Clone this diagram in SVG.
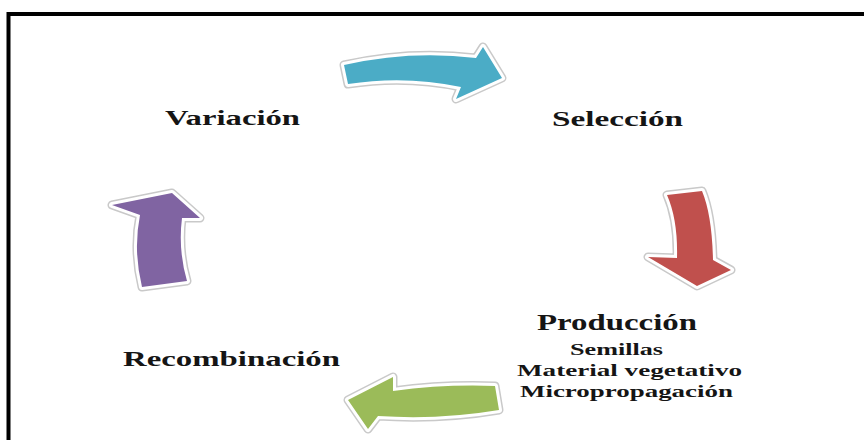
<svg xmlns="http://www.w3.org/2000/svg" width="864" height="440" viewBox="0 0 864 440">
<style>
.lbl{font-family:"Liberation Serif","DejaVu Serif",serif;font-weight:bold;fill:#151515;}
.main{font-size:22px;}
.big{font-size:24px;}
.sub{font-size:17px;}
.halo{fill:none;stroke:#c9c9c9;stroke-width:9;stroke-linejoin:round;}
.rim{fill:none;stroke:#ffffff;stroke-width:6;stroke-linejoin:round;}
</style>
<rect x="0" y="0" width="864" height="440" fill="#ffffff"/>
<path d="M8.5,440 V14 H864" fill="none" stroke="#000" stroke-width="4"/>
<defs>
<path id="pBlue" d="M344,65 Q410,50 476,58 L483,47 L502,78 L456,99 L461,87 Q405,75 348,84 Z"/>
<path id="pRed" d="M667,195 L702,191 Q712,215 713,260 L731,270 L697,286 L648,257 L677,258 Q678,220 667,195 Z"/>
<path id="pGreen" d="M495,386 L499,410 Q440,420 378,416 L368,429 L348,400 L393,377 L393,391 Q445,384 495,386 Z"/>
<path id="pPurple" d="M112,205 L172,193 L200,218 L182,218 Q178,250 187,281 L142,287 Q133,250 140,215 Z"/>
</defs>
<g id="connectors">
<use href="#pBlue" class="halo"/><use href="#pBlue" class="rim"/><use href="#pBlue" fill="#4BACC6"/>
<use href="#pRed" class="halo"/><use href="#pRed" class="rim"/><use href="#pRed" fill="#C0504D"/>
<use href="#pGreen" class="halo"/><use href="#pGreen" class="rim"/><use href="#pGreen" fill="#9BBB59"/>
<use href="#pPurple" class="halo"/><use href="#pPurple" class="rim"/><use href="#pPurple" fill="#8064A2"/>
</g>
<g id="variacion"><text class="lbl main" x="165" y="125" textLength="135" lengthAdjust="spacingAndGlyphs">Variación</text></g>
<g id="seleccion"><text class="lbl main" x="552" y="126" textLength="131" lengthAdjust="spacingAndGlyphs">Selección</text></g>
<g id="recombinacion"><text class="lbl main" x="123" y="366" textLength="217" lengthAdjust="spacingAndGlyphs">Recombinación</text></g>
<g id="produccion">
<text class="lbl big" x="537" y="330" textLength="160" lengthAdjust="spacingAndGlyphs">Producción</text>
<text class="lbl sub" x="570" y="355" textLength="93" lengthAdjust="spacingAndGlyphs">Semillas</text>
<text class="lbl sub" x="517" y="376" textLength="225" lengthAdjust="spacingAndGlyphs">Material vegetativo</text>
<text class="lbl sub" x="520" y="397" textLength="213" lengthAdjust="spacingAndGlyphs">Micropropagación</text>
</g>
</svg>
